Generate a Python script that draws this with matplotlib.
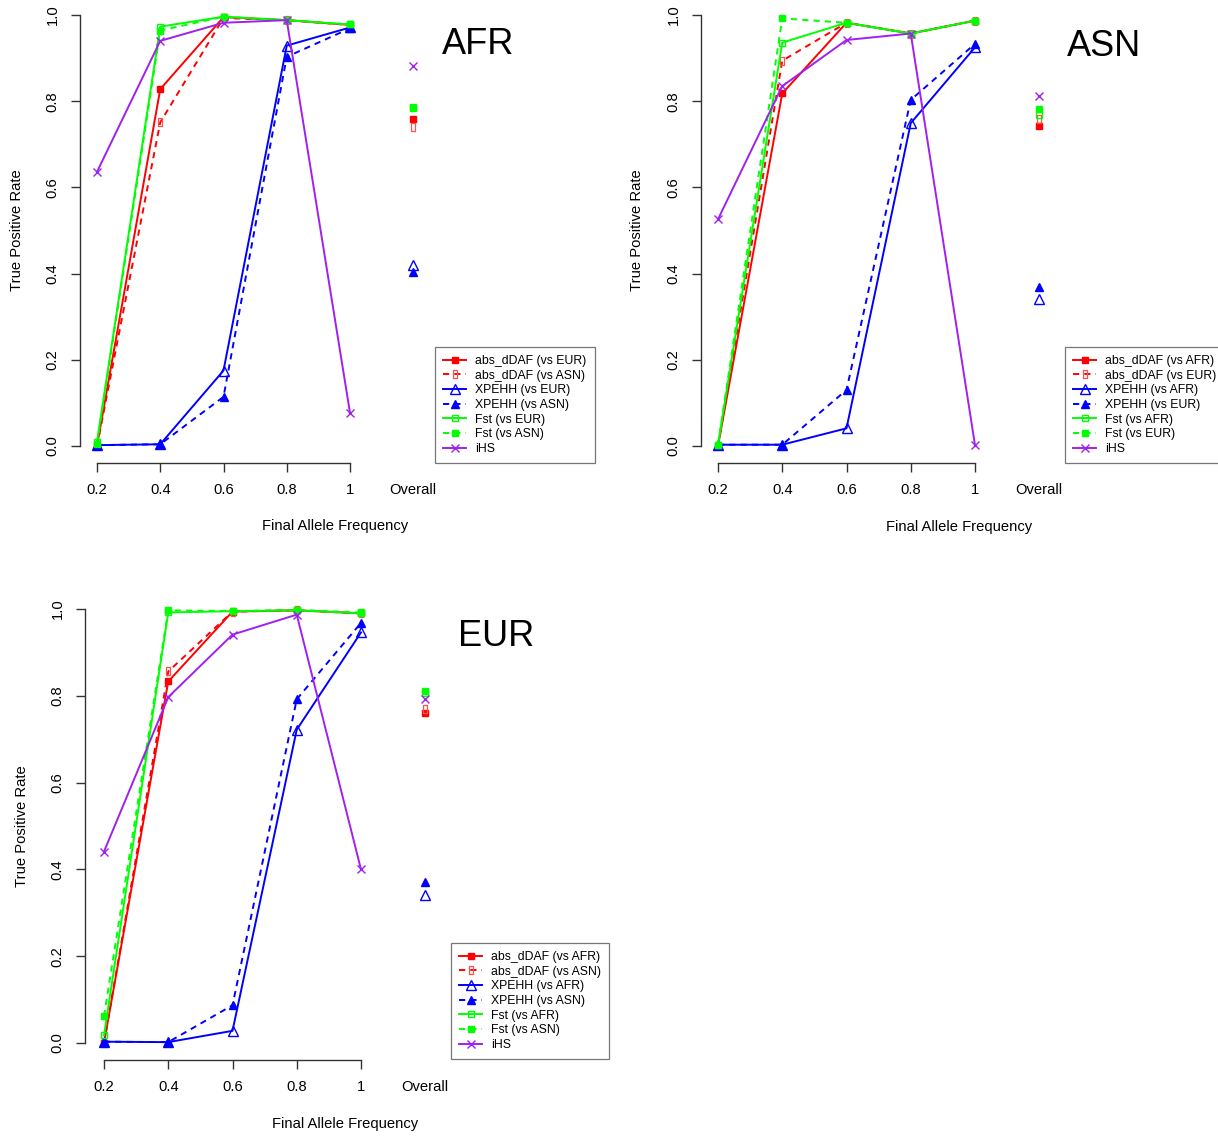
import matplotlib
matplotlib.use("Agg")
import matplotlib.pyplot as plt
from matplotlib.path import Path

plt.rcParams['font.family'] = ['Liberation Sans', 'DejaVu Sans']

W, H = 1218, 1137

x_freq = [0.2, 0.4, 0.6, 0.8, 1.0]
x_ticklabels = ['0.2', '0.4', '0.6', '0.8', '1']
x_overall = 1.2

# ---- AFR panel ----
afr_labels = ['abs_dDAF (vs EUR)', 'abs_dDAF (vs ASN)', 'XPEHH (vs EUR)', 'XPEHH (vs ASN)',
              'Fst (vs EUR)', 'Fst (vs ASN)', 'iHS']
afr_dDAF_1 = [0.0, 0.828, 0.995, 0.988, 0.977]
afr_dDAF_2 = [0.0, 0.751, 0.993, 0.988, 0.977]
afr_xpehh_1 = [0.002, 0.004, 0.175, 0.929, 0.971]
afr_xpehh_2 = [0.002, 0.004, 0.114, 0.903, 0.969]
afr_fst_1 = [0.010, 0.973, 0.996, 0.988, 0.978]
afr_fst_2 = [0.005, 0.964, 0.996, 0.988, 0.978]
afr_ihs = [0.636, 0.940, 0.982, 0.988, 0.077]
afr_overall = [0.759, 0.741, 0.420, 0.403, 0.786, 0.784, 0.882]

# ---- ASN panel ----
asn_labels = ['abs_dDAF (vs AFR)', 'abs_dDAF (vs EUR)', 'XPEHH (vs AFR)', 'XPEHH (vs EUR)',
              'Fst (vs AFR)', 'Fst (vs EUR)', 'iHS']
asn_dDAF_1 = [0.0, 0.818, 0.982, 0.957, 0.987]
asn_dDAF_2 = [0.0, 0.894, 0.982, 0.957, 0.987]
asn_xpehh_1 = [0.003, 0.003, 0.041, 0.749, 0.925]
asn_xpehh_2 = [0.003, 0.003, 0.130, 0.803, 0.933]
asn_fst_1 = [0.003, 0.936, 0.982, 0.957, 0.987]
asn_fst_2 = [0.003, 0.992, 0.982, 0.957, 0.987]
asn_ihs = [0.526, 0.835, 0.942, 0.957, 0.002]
asn_overall = [0.742, 0.758, 0.340, 0.368, 0.768, 0.781, 0.811]

# ---- EUR panel ----
eur_labels = ['abs_dDAF (vs AFR)', 'abs_dDAF (vs ASN)', 'XPEHH (vs AFR)', 'XPEHH (vs ASN)',
              'Fst (vs AFR)', 'Fst (vs ASN)', 'iHS']
eur_dDAF_1 = [0.0, 0.833, 0.994, 0.997, 0.990]
eur_dDAF_2 = [0.0, 0.856, 0.994, 0.997, 0.990]
eur_xpehh_1 = [0.003, 0.002, 0.028, 0.722, 0.946]
eur_xpehh_2 = [0.003, 0.002, 0.087, 0.792, 0.968]
eur_fst_1 = [0.018, 0.992, 0.995, 0.997, 0.990]
eur_fst_2 = [0.062, 0.997, 0.995, 0.998, 0.992]
eur_ihs = [0.441, 0.797, 0.941, 0.987, 0.400]
eur_overall = [0.761, 0.769, 0.341, 0.370, 0.806, 0.810, 0.792]

RED, BLUE, GREEN, PURPLE = '#FF0000', '#0000FF', '#00FF00', '#A020F0'
narrow_rect = Path([(-0.45, -1), (0.45, -1), (0.45, 1), (-0.45, 1), (-0.45, -1)],
                   [Path.MOVETO, Path.LINETO, Path.LINETO, Path.LINETO, Path.CLOSEPOLY])

styles = [
    dict(color=RED, ls='-', marker='s', ms=3.8, mfc=RED, mec=RED),
    dict(color=RED, ls=(0, (3.2, 2.6)), marker=narrow_rect, ms=5.5, mfc='none', mec='#FF5050', mew=0.9),
    dict(color=BLUE, ls='-', marker='^', ms=7, mfc='none', mec=BLUE, mew=1.0),
    dict(color=BLUE, ls=(0, (3.2, 2.6)), marker='^', ms=5.5, mfc=BLUE, mec=BLUE),
    dict(color=GREEN, ls='-', marker='s', ms=5, mfc='none', mec=GREEN, mew=1.0),
    dict(color=GREEN, ls=(0, (3.2, 2.6)), marker='s', ms=5, mfc=GREEN, mec=GREEN),
    dict(color=PURPLE, ls='-', marker='x', ms=5.5, mfc=PURPLE, mec=PURPLE, mew=1.0),
]

fig = plt.figure(figsize=(W / 100, H / 100), dpi=100)


def panel(series, overall, labels, title, axis_x, axis_y, x02, x1, y0, y1,
          title_xy, legend_xy, ylab_x, xlab_xy):
    xs = (x1 - x02) / 0.8
    ys = (y0 - y1)
    right = axis_x + 560
    top = y1 - 0.04 * ys
    ax = fig.add_axes([axis_x / W, 1 - axis_y / H, (right - axis_x) / W, (axis_y - top) / H])
    ax.set_xlim(0.2 + (axis_x - x02) / xs, 0.2 + (right - x02) / xs)
    ax.set_ylim((y0 - axis_y) / ys, (y0 - top) / ys)
    ax.patch.set_alpha(0)
    for s in ['top', 'right']:
        ax.spines[s].set_visible(False)
    ax.spines['left'].set_bounds(0, 1)
    ax.spines['bottom'].set_bounds(0.2, 1.0)
    for s in ['left', 'bottom']:
        ax.spines[s].set_color('#333333')
        ax.spines[s].set_linewidth(1.0)
    ax.set_xticks(x_freq)
    ax.set_xticklabels(x_ticklabels)
    ax.set_xticks([x_overall], minor=True)
    ax.set_xticklabels(['Overall'], minor=True)
    ax.set_yticks([0, 0.2, 0.4, 0.6, 0.8, 1.0])
    ax.set_yticklabels(['0.0', '0.2', '0.4', '0.6', '0.8', '1.0'], rotation=90, va='center')
    ax.tick_params(axis='both', which='major', length=6.5, width=1.0, color='#333333',
                   labelsize=10.6, pad=8.0)
    ax.tick_params(axis='x', which='minor', length=0, labelsize=10.6, pad=14.5)
    handles = []
    for vals, ov, st, lab in zip(series, overall, styles, labels):
        h, = ax.plot(x_freq, vals, lw=1.4, label=lab, **st)
        st2 = {k: v for k, v in st.items() if k != 'ls'}
        ax.plot([x_overall], [ov], ls='none', **st2)
        handles.append(h)
    fig.text(ylab_x / W, 1 - ((y0 + y1) / 2) / H, 'True Positive Rate', rotation=90,
             ha='center', va='center', fontsize=10.6)
    fig.text(xlab_xy[0] / W, 1 - xlab_xy[1] / H, 'Final Allele Frequency',
             ha='center', va='center', fontsize=10.6)
    fig.text(title_xy[0] / W, 1 - title_xy[1] / H, title, ha='center', va='center', fontsize=26)
    leg = ax.legend(handles=handles, loc='upper left',
                    bbox_to_anchor=(legend_xy[0] / W, 1 - legend_xy[1] / H),
                    bbox_transform=fig.transFigure, borderaxespad=0, fontsize=8.8,
                    frameon=True, fancybox=False, numpoints=1, handlelength=1.9,
                    handletextpad=0.75, labelspacing=0.22, borderpad=0.65)
    leg.get_frame().set_edgecolor('#555555')
    leg.get_frame().set_linewidth(0.9)
    return ax


panel([afr_dDAF_1, afr_dDAF_2, afr_xpehh_1, afr_xpehh_2, afr_fst_1, afr_fst_2, afr_ihs],
      afr_overall, afr_labels, 'AFR', axis_x=80, axis_y=463, x02=97, x1=350, y0=446, y1=15,
      title_xy=(478, 44), legend_xy=(435, 347), ylab_x=17, xlab_xy=(335, 526))
panel([asn_dDAF_1, asn_dDAF_2, asn_xpehh_1, asn_xpehh_2, asn_fst_1, asn_fst_2, asn_ihs],
      asn_overall, asn_labels, 'ASN', axis_x=701, axis_y=463, x02=718, x1=975, y0=446, y1=15,
      title_xy=(1104, 46), legend_xy=(1065, 347), ylab_x=637, xlab_xy=(959, 527))
panel([eur_dDAF_1, eur_dDAF_2, eur_xpehh_1, eur_xpehh_2, eur_fst_1, eur_fst_2, eur_ihs],
      eur_overall, eur_labels, 'EUR', axis_x=85, axis_y=1060, x02=104, x1=361, y0=1043, y1=609,
      title_xy=(496, 636), legend_xy=(451, 943), ylab_x=22, xlab_xy=(345, 1124))

fig.savefig('out.png', dpi=100)
